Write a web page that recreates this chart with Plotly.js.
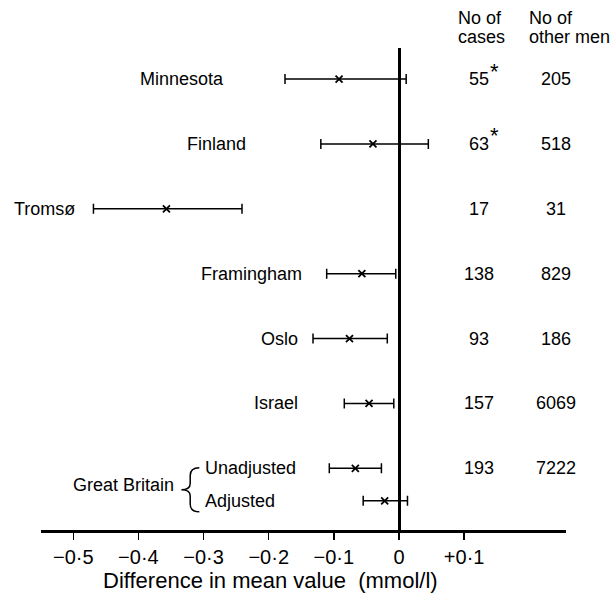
<!DOCTYPE html>
<html>
<head>
<meta charset="utf-8">
<script src="https://cdn.plot.ly/plotly-3.0.1.min.js"></script>
<style>html,body{margin:0;padding:0;background:#fff;}#chart{width:613px;height:594px;}</style>
</head>
<body>
<div id="chart"></div>
<script>
// ---- data ----
const studies = ["Minnesota", "Finland", "Tromsø", "Framingham", "Oslo", "Israel", "Unadjusted", "Adjusted"];
const meanDiff = [-0.092, -0.040, -0.357, -0.057, -0.076, -0.046, -0.067, -0.022];
const lowerCI  = [-0.175, -0.120, -0.469, -0.111, -0.132, -0.084, -0.107, -0.055];
const upperCI  = [0.011, 0.045, -0.241, -0.005, -0.018, -0.008, -0.027, 0.013];
const casesStudies = ["Minnesota", "Finland", "Tromsø", "Framingham", "Oslo", "Israel", "Great Britain"];
const nCases = [55, 63, 17, 138, 93, 157, 193];
const casesFlag = [true, true, false, false, false, false, false];
const nOtherMen = [205, 518, 31, 829, 186, 6069, 7222];
const tickVals = [-0.5, -0.4, -0.3, -0.2, -0.1, 0, 0.1];
const tickLabels = ["\u22120\u00b75", "\u22120\u00b74", "\u22120\u00b73", "\u22120\u00b72", "\u22120\u00b71", "0", "+0\u00b71"];

// ---- layout helpers (positions only) ----
const rowY = [0, 1, 2, 3, 4, 5, 6, 6.5];
const numRowY = [0, 1, 2, 3, 4, 5, 6];
const labelX = [-0.2655, -0.232, -0.494, -0.146, -0.152, -0.152, -0.301, -0.301];
const labelAnchor = ["right", "right", "right", "right", "right", "right", "left", "left"];
const FONT = "Liberation Sans, Arial, sans-serif";
const FS = 18;

const trace = {
  type: "scatter",
  mode: "markers",
  x: meanDiff,
  y: rowY,
  marker: {symbol: "x-thin-open", size: 7, color: "black", line: {width: 1.8, color: "black"}},
  error_x: {
    type: "data", symmetric: false,
    array: upperCI.map((u, i) => u - meanDiff[i]),
    arrayminus: lowerCI.map((l, i) => meanDiff[i] - l),
    color: "black", thickness: 1.5, width: 5
  },
  hoverinfo: "skip",
  showlegend: false,
  cliponaxis: false
};

const annotations = [];
studies.forEach((s, i) => {
  annotations.push({x: labelX[i], y: rowY[i], xref: "x", yref: "y", text: s, showarrow: false,
    xanchor: labelAnchor[i], yanchor: "middle", font: {family: FONT, size: FS, color: "black"}});
});
annotations.push({x: -0.342, y: 6.26, xref: "x", yref: "y", text: "Great Britain", showarrow: false,
  xanchor: "right", yanchor: "middle", font: {family: FONT, size: FS, color: "black"}});
casesStudies.forEach((s, i) => {
  annotations.push({x: 0.1228, y: numRowY[i], xref: "x", yref: "y",
    text: String(nCases[i]), showarrow: false,
    xanchor: "center", yanchor: "middle", font: {family: FONT, size: FS, color: "black"}});
  if (casesFlag[i]) {
    annotations.push({x: 0.1228, y: numRowY[i], xref: "x", yref: "y", text: "*", showarrow: false,
      xanchor: "left", yanchor: "middle", xshift: 9, yshift: 8, font: {family: FONT, size: 22, color: "black"}});
  }
  annotations.push({x: 0.241, y: numRowY[i], xref: "x", yref: "y", text: String(nOtherMen[i]), showarrow: false,
    xanchor: "center", yanchor: "middle", font: {family: FONT, size: FS, color: "black"}});
});
const headers = [["No of", 0.0875, 1.062], ["cases", 0.0875, 1.023], ["No of", 0.1965, 1.062], ["other men", 0.1965, 1.023]];
headers.forEach(h => annotations.push({x: h[1], y: h[2], xref: "x", yref: "paper", text: h[0], showarrow: false,
  xanchor: "left", yanchor: "middle", font: {family: FONT, size: FS, color: "black"}}));
annotations.push({x: -0.198, y: -0.104, xref: "x", yref: "paper", text: "Difference in mean value  (mmol/l)",
  showarrow: false, xanchor: "center", yanchor: "middle", font: {family: FONT, size: 22, color: "black"}});

// curly brace for Great Britain
function brace(xTip, xStem, xEnd, yTop, yBot) {
  const yMid = (yTop + yBot) / 2, c = 0.12;
  return `M ${xEnd},${yTop} Q ${xStem},${yTop} ${xStem},${yTop + c} L ${xStem},${yMid - c * 0.8} Q ${xStem},${yMid} ${xTip},${yMid} ` +
         `Q ${xStem},${yMid} ${xStem},${yMid + c * 0.8} L ${xStem},${yBot - c} Q ${xStem},${yBot} ${xEnd},${yBot}`;
}

const layout = {
  width: 613, height: 594,
  margin: {l: 41, r: 47, t: 48, b: 64, pad: 0},
  paper_bgcolor: "white", plot_bgcolor: "white",
  font: {family: FONT, size: FS, color: "black"},
  xaxis: {
    range: [-0.5495, 0.2563], tickvals: tickVals, ticktext: tickLabels,
    ticks: "outside", ticklen: 7, tickwidth: 1.5, tickcolor: "black",
    showline: true, linewidth: 2.5, linecolor: "black",
    zeroline: true, zerolinewidth: 3, zerolinecolor: "black",
    showgrid: false, tickfont: {family: FONT, size: 20, color: "black"}, fixedrange: true
  },
  yaxis: {range: [6.95, -0.478], visible: false, showgrid: false, zeroline: false, fixedrange: true},
  shapes: [{type: "path", xref: "x", yref: "y", path: brace(-0.334, -0.3205, -0.3065, 5.99, 6.67),
    line: {color: "black", width: 1.5}}],
  annotations: annotations,
  showlegend: false
};

Plotly.newPlot("chart", [trace], layout, {displayModeBar: false, staticPlot: true});
</script>
</body>
</html>
